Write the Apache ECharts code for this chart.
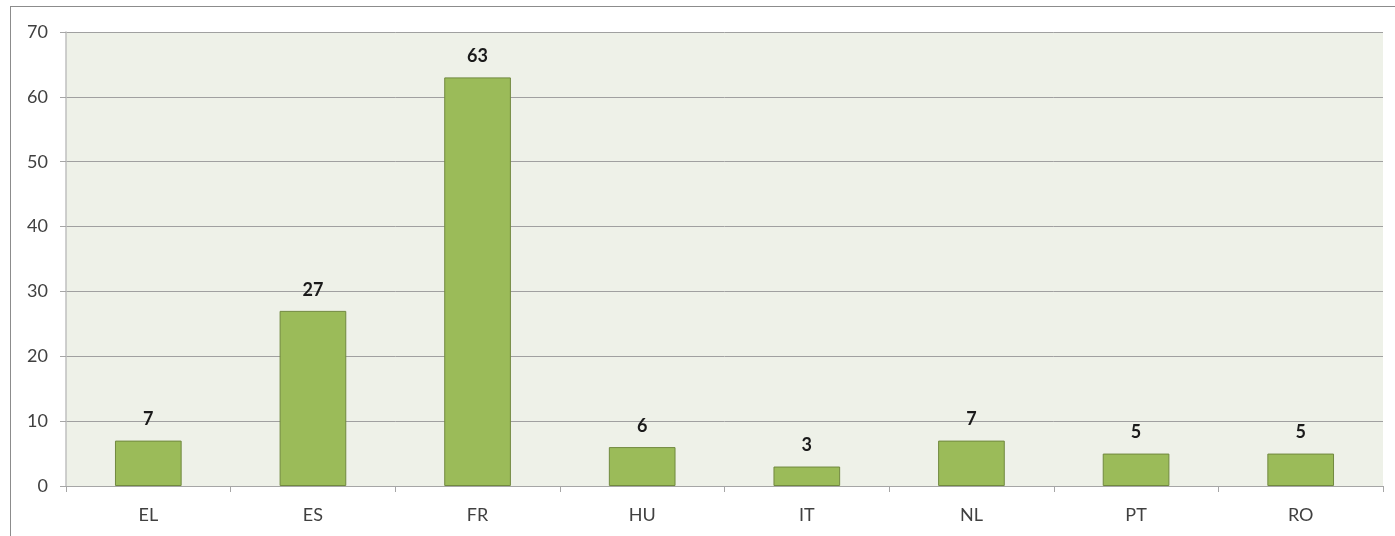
<!DOCTYPE html>
<html>
<head>
<meta charset="utf-8">
<script src="https://cdn.jsdelivr.net/npm/echarts@6/dist/echarts.min.js"></script>
<style>
html,body{margin:0;padding:0;background:#fff;width:1395px;height:536px;overflow:hidden;}
#frame{position:absolute;left:10px;top:6px;width:1400px;height:600px;border:1px solid #8c8c8c;}
#chart{position:absolute;left:0;top:0;width:1395px;height:536px;}
</style>
</head>
<body>
<div id="frame"></div>
<div id="chart"></div>
<script>
const categories = ['EL','ES','FR','HU','IT','NL','PT','RO'];
const values = [7,27,63,6,3,7,5,5];
const yTicks = {min:0, max:70, interval:10};

const chart = echarts.init(document.getElementById('chart'), null, {renderer:'canvas'});
chart.setOption({
  animation:false,
  grid:{left:66, right:12, top:32, bottom:50, show:true, backgroundColor:'#EEF1E8', borderWidth:0},
  xAxis:{
    type:'category', data:categories,
    axisLine:{show:true, lineStyle:{color:'#A6A6A6', width:1}},
    axisTick:{show:true, alignWithLabel:false, length:6, lineStyle:{color:'#A6A6A6'}},
    axisLabel:{color:'#404040', fontSize:18, fontFamily:'Lato', margin:20}
  },
  yAxis:{
    type:'value', min:yTicks.min, max:yTicks.max, interval:yTicks.interval,
    axisLine:{show:true, lineStyle:{color:'#BFBFBF', width:1.5}},
    axisTick:{show:true, length:6, lineStyle:{color:'#A6A6A6'}},
    splitLine:{show:true, lineStyle:{color:'#A0A0A0', width:1}},
    axisLabel:{color:'#404040', fontSize:18, fontFamily:'Lato', margin:18}
  },
  series:[{
    type:'bar', data:values, barWidth:'40.5%',
    itemStyle:{color:'#9BBB59', borderColor:'#71893F', borderWidth:1},
    label:{show:true, position:'top', distance:12, color:'#1a1a1a', fontWeight:'bold', fontSize:18, fontFamily:'Lato'}
  }]
});
</script>
</body>
</html>
